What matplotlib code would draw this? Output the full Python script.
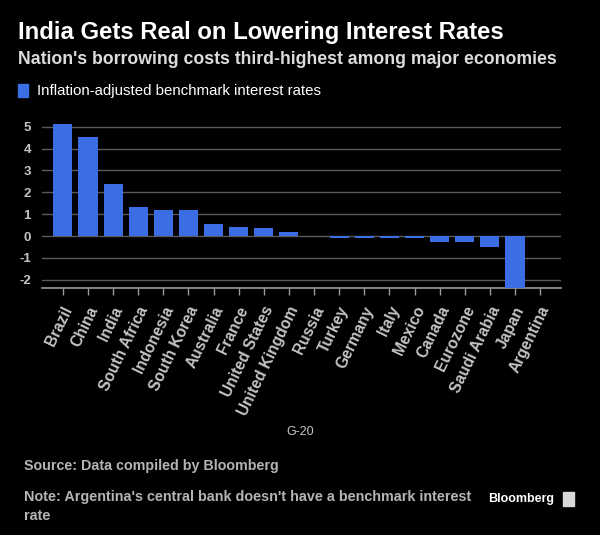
import matplotlib
matplotlib.use("Agg")
import matplotlib.pyplot as plt
import matplotlib.transforms as mtransforms
from matplotlib.patches import Rectangle

countries = [
    "Brazil", "China", "India", "South Africa", "Indonesia", "South Korea",
    "Australia", "France", "United States", "United Kingdom", "Russia",
    "Turkey", "Germany", "Italy", "Mexico", "Canada", "Eurozone",
    "Saudi Arabia", "Japan", "Argentina",
]
real_rates = [
    5.10, 4.53, 2.37, 1.31, 1.19, 1.19,
    0.53, 0.43, 0.35, 0.17, 0.0,
    -0.09, -0.09, -0.09, -0.08, -0.27, -0.27,
    -0.52, -2.35, 0.0,
]
y_ticks = [-2, -1, 0, 1, 2, 3, 4, 5]

BG = "#000000"
BAR = "#3b6de3"
GRID = "#5a5a5a"
TICK_TEXT = "#c4c4c4"

plt.rcParams["font.family"] = ["Liberation Sans", "DejaVu Sans"]

fig = plt.figure(figsize=(6.0, 5.35), dpi=100, facecolor=BG)
ax = fig.add_axes([0.07, 0.4626, 0.865, 0.313], facecolor=BG)

x = list(range(len(countries)))
ax.bar(x, real_rates, width=0.76, color=BAR, zorder=3)

ax.set_xlim(-0.83, len(countries) - 1 + 0.83)
ax.set_ylim(-2.35, 5.3)
ax.grid(axis="y", color=GRID, linewidth=1.0, zorder=0)
ax.tick_params(axis="y", length=0, pad=8, labelcolor=TICK_TEXT)
ax.tick_params(axis="x", length=5, color="#9a9a9a", width=1, pad=9,
               labelcolor=TICK_TEXT)

ax.set_yticks(y_ticks)
ax.set_yticklabels([str(t) for t in y_ticks], fontsize=9.5, fontweight="bold")
ax.set_xticks(x)
ax.set_xticklabels(countries, rotation=64, ha="right", va="center",
                   rotation_mode="anchor", fontsize=11.2, fontweight="bold")
shift = mtransforms.ScaledTranslation(0.06, 0, fig.dpi_scale_trans)
for label in ax.get_xticklabels():
    label.set_transform(label.get_transform() + shift)

for side in ["top", "right", "left"]:
    ax.spines[side].set_visible(False)
ax.spines["bottom"].set_color("#9a9a9a")
ax.spines["bottom"].set_linewidth(1.2)

fig.text(300 / 600, 1 - 432 / 535, "G-20", ha="center", va="center",
         color=TICK_TEXT, fontsize=9)

fig.text(18 / 600, 1 - 33 / 535, "India Gets Real on Lowering Interest Rates",
         color="white", fontsize=17.2, fontweight="bold", va="center")
fig.text(18 / 600, 1 - 59 / 535,
         "Nation's borrowing costs third-highest among major economies",
         color="#dcdcdc", fontsize=12.7, fontweight="bold", va="center")

fig.patches.append(Rectangle((18 / 600, 1 - 97 / 535), 10 / 600, 13 / 535,
                             transform=fig.transFigure, color=BAR))
fig.text(37 / 600, 1 - 91 / 535, "Inflation-adjusted benchmark interest rates",
         color="white", fontsize=10.8, va="center")

fig.text(24 / 600, 1 - 466 / 535, "Source: Data compiled by Bloomberg",
         color="#b4b4b4", fontsize=10.3, fontweight="bold", va="center")
fig.text(24 / 600, 1 - 497 / 535,
         "Note: Argentina's central bank doesn't have a benchmark interest",
         color="#b4b4b4", fontsize=10.4, fontweight="bold", va="center")
fig.text(24 / 600, 1 - 516 / 535, "rate",
         color="#b4b4b4", fontsize=10.4, fontweight="bold", va="center")
fig.text(488 / 600, 1 - 499 / 535, "Bloomberg", color="white",
         fontsize=9, fontweight="bold", va="center")
fig.patches.append(Rectangle((563 / 600, 1 - 506 / 535), 11 / 600, 14 / 535,
                             transform=fig.transFigure, color="#d8d8d8"))

fig.savefig("out.png", dpi=100, facecolor=BG)
